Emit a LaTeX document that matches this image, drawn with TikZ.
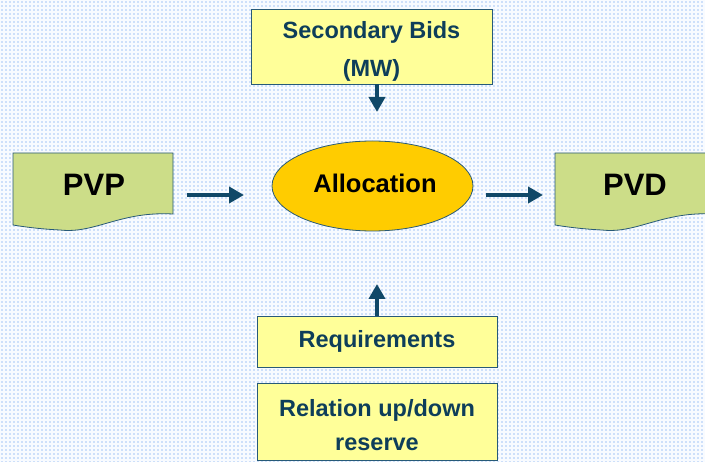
\documentclass[tikz,border=0pt]{standalone}
\usepackage{fontspec}
\setmainfont{Liberation Sans}
\usetikzlibrary{shapes.geometric,arrows.meta}
\definecolor{bgblue}{RGB}{206,224,250}
\definecolor{gridwhite}{RGB}{248,251,255}
\definecolor{paleyellow}{RGB}{255,255,153}
\definecolor{docgreen}{RGB}{204,221,136}
\definecolor{gold}{RGB}{255,204,0}
\definecolor{edgeblue}{RGB}{40,90,120}
\definecolor{inkteal}{RGB}{14,62,90}
\definecolor{arrowteal}{RGB}{16,72,104}
\tikzset{
  infobox/.style={draw=edgeblue, line width=0.8pt, fill=paleyellow, inner sep=0pt},
  infotext/.style={text=inkteal, font=\fontsize{23.5}{#1}\selectfont\bfseries,
    align=center, inner sep=0pt},
  infotext/.default=34,
  docshape/.style={draw=edgeblue, line width=0.8pt, fill=docgreen},
  doclabel/.style={font=\fontsize{31}{36}\selectfont\bfseries, text=black},
  flow/.style={draw=arrowteal, line width=4pt,
    -{Triangle[length=15pt,width=16pt]}}
}
\begin{document}
\begin{tikzpicture}[x=1pt,y=-1pt]
  % backdrop with fine grid
  \fill[bgblue] (0,0) rectangle (705,462);
  \begin{scope}
    \clip (0,0) rectangle (705,462);
    \foreach \k in {0,4,...,704} {\draw[gridwhite, line width=1.5pt] (\k,0) -- (\k,462);}
    \foreach \k in {0,4,...,460} {\draw[gridwhite, line width=1.5pt] (0,\k) -- (705,\k);}
  \end{scope}
  \useasboundingbox (0,0) rectangle (705,462);

  % top input box
  \node[infobox, minimum width=241pt, minimum height=75pt] (bids) at (371.5,46.5) {};
  \node[infotext=38] (bidsText) at (371.5,51.5) {Secondary Bids\\(MW)};

  % central process
  \node[ellipse, draw=edgeblue, line width=0.8pt, fill=gold, minimum width=201pt,
    minimum height=90pt, inner sep=0pt] (alloc) at (372.5,186) {};
  \node[font=\fontsize{25.5}{30}\selectfont\bfseries, inner sep=0pt]
    (allocText) at (375,183.5) {Allocation};

  % documents on either side
  \begin{scope}
    \clip (0,0) rectangle (705,462);
    \path[docshape] (13,153) -- (173,153) -- (173,214)
      .. controls (120,211) and (95,234) .. (60,230)
      .. controls (40,229) and (25,227) .. (13,225) -- cycle;
    \path[docshape] (555,153) -- (715,153) -- (715,214)
      .. controls (662,211) and (637,234) .. (602,230)
      .. controls (582,229) and (567,227) .. (555,225) -- cycle;
  \end{scope}
  \node[doclabel] (pvp) at (94,184.5) {PVP};
  \node[doclabel] (pvd) at (635,184.5) {PVD};

  % lower input boxes
  \node[infobox, minimum width=240pt, minimum height=51pt] (req) at (377,341.5) {};
  \node[infotext] (reqText) at (377,341) {Requirements};
  \node[infobox, minimum width=240pt, minimum height=77pt] (rel) at (377,421.5) {};
  \node[infotext] (relText) at (377,425) {Relation up/down\\reserve};

  % connectors
  \coordinate (inA) at (187,195);
  \coordinate (inB) at (244,195);
  \coordinate (outA) at (486,195);
  \coordinate (outB) at (543,195);
  \coordinate (dnB) at (377,112);
  \coordinate (upB) at (377,284);
  \draw[flow] (inA) -- (inB);
  \draw[flow] (outA) -- (outB);
  \draw[flow] (bids.south -| dnB) -- (dnB);
  \draw[flow] (req.north) -- (upB);
\end{tikzpicture}
\end{document}
